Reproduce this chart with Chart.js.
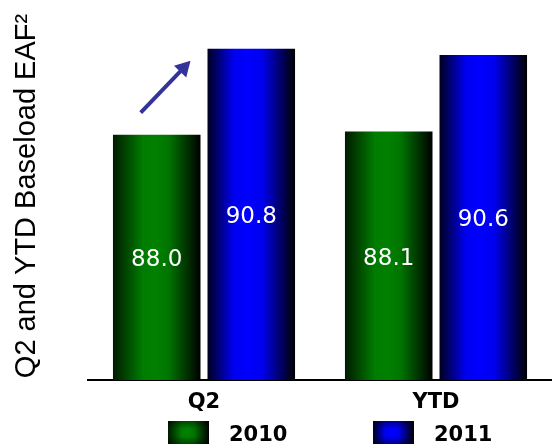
<!DOCTYPE html>
<html>
<head>
<meta charset="utf-8">
<script src="https://cdn.jsdelivr.net/npm/chart.js@4/dist/chart.umd.min.js"></script>
<style>
  html, body { margin: 0; padding: 0; background: #fff; }
  #wrap { width: 552px; height: 446px; position: relative; }
</style>
</head>
<body>
<div id="wrap"><canvas id="eafChart"></canvas></div>
<script>
const categories = ['Q2', 'YTD'];
const seriesNames = ['2010', '2011'];
const values2010 = [88.0, 88.1];
const values2011 = [90.8, 90.6];
const axisTitle = 'Q2 and YTD Baseload EAF\u00B2';

// gradient stops per series: dark edges, bright middle
const gradients = [
  [[0, '#001a00'], [0.34, '#007c00'], [0.5, '#008000'], [0.64, '#007400'], [1, '#000000']],
  [[0, '#000020'], [0.3, '#0000f0'], [0.45, '#0000ff'], [0.62, '#0000f0'], [1, '#000000']]
];
const midColors = ['#008000', '#0000ff'];

function barFill(context) {
  const i = context.datasetIndex;
  const bar = context.element;
  if (!bar || bar.x === undefined || !bar.width) return midColors[i];
  const g = context.chart.ctx.createLinearGradient(bar.x - bar.width / 2, 0, bar.x + bar.width / 2, 0);
  gradients[i].forEach(s => g.addColorStop(s[0], s[1]));
  return g;
}

const valueLabels = {
  id: 'valueLabels',
  afterDatasetsDraw(chart) {
    const ctx = chart.ctx;
    const bottom = chart.chartArea.bottom;
    ctx.save();
    ctx.fillStyle = '#ffffff';
    ctx.font = '23px "DejaVu Sans"';
    ctx.textAlign = 'center';
    ctx.textBaseline = 'middle';
    chart.data.datasets.forEach((ds, di) => {
      chart.getDatasetMeta(di).data.forEach((bar, i) => {
        // the axis does not start at zero, so the visible bar ends at the chart bottom
        const base = Math.min(bar.base, bottom);
        ctx.fillText(ds.data[i].toFixed(1), bar.x, (bar.y + base) / 2 + 3);
      });
    });
    ctx.restore();
  }
};

// arrow from the 2010 Q2 bar up towards the 2011 Q2 bar
const upArrow = {
  id: 'upArrow',
  afterDatasetsDraw(chart) {
    const a = chart.getDatasetMeta(0).data[0];
    const b = chart.getDatasetMeta(1).data[0];
    if (!a || !b) return;
    const x0 = a.x - 16, y0 = a.y - 22;
    const x1 = b.x - b.width / 2 - 17, y1 = b.y + 12;
    const dx = x1 - x0, dy = y1 - y0;
    const len = Math.sqrt(dx * dx + dy * dy);
    const ux = dx / len, uy = dy / len;
    const head = 15, half = 8.5;
    const bx = x1 - ux * head, by = y1 - uy * head;
    const ctx = chart.ctx;
    ctx.save();
    ctx.strokeStyle = '#333399';
    ctx.fillStyle = '#333399';
    ctx.lineWidth = 4;
    ctx.beginPath();
    ctx.moveTo(x0, y0);
    ctx.lineTo(bx + ux * 2, by + uy * 2);
    ctx.stroke();
    ctx.beginPath();
    ctx.moveTo(x1, y1);
    ctx.lineTo(bx - uy * half, by + ux * half);
    ctx.lineTo(bx + uy * half, by - ux * half);
    ctx.closePath();
    ctx.fill();
    ctx.restore();
  }
};

// legend drawn under the axis labels
const boxLegend = {
  id: 'boxLegend',
  afterDraw(chart) {
    const ctx = chart.ctx;
    const itemX = [168, 373];
    const boxY = 421, boxW = 41, boxH = 23;
    ctx.save();
    chart.data.datasets.forEach((ds, i) => {
      const x = itemX[i];
      const g = ctx.createLinearGradient(x, 0, x + boxW, 0);
      gradients[i].forEach(s => g.addColorStop(s[0], s[1]));
      ctx.fillStyle = g;
      ctx.fillRect(x, boxY, boxW, boxH);
      const v = ctx.createLinearGradient(0, boxY, 0, boxY + boxH);
      v.addColorStop(0, 'rgba(0,0,0,0.45)');
      v.addColorStop(0.35, 'rgba(0,0,0,0)');
      v.addColorStop(0.65, 'rgba(0,0,0,0)');
      v.addColorStop(1, 'rgba(0,0,0,0.45)');
      ctx.fillStyle = v;
      ctx.fillRect(x, boxY, boxW, boxH);
      ctx.fillStyle = '#000';
      ctx.font = 'bold 21px "DejaVu Sans"';
      ctx.textAlign = 'left';
      ctx.textBaseline = 'middle';
      ctx.fillText(ds.label, x + boxW + 20, boxY + boxH / 2 + 3);
    });
    ctx.restore();
  }
};

const chart = new Chart(document.getElementById('eafChart'), {
  type: 'bar',
  data: {
    labels: categories,
    datasets: [
      { label: seriesNames[0], data: values2010, backgroundColor: barFill },
      { label: seriesNames[1], data: values2011, backgroundColor: barFill }
    ]
  },
  options: {
    responsive: true,
    maintainAspectRatio: false,
    animation: false,
    layout: { padding: { top: 12, right: 0, bottom: 0, left: 0 } },
    datasets: { bar: { categoryPercentage: 0.815, barPercentage: 0.926 } },
    plugins: {
      legend: { display: false },
      tooltip: { enabled: false }
    },
    scales: {
      x: {
        grid: { display: false },
        border: { display: true, color: '#000', width: 2 },
        ticks: { color: '#000', padding: 2, font: { family: 'DejaVu Sans', size: 21, weight: 'bold' } },
        afterFit(scale) { scale.height = 66; }
      },
      y: {
        min: 80,
        max: 92,
        grid: { display: false },
        border: { display: false },
        ticks: { display: false },
        title: {
          display: true,
          text: axisTitle,
          color: '#000',
          padding: { top: 12, bottom: 0 },
          font: { family: 'Liberation Sans', size: 29, weight: 'normal', lineHeight: 1 }
        },
        afterFit(scale) { scale.width = 88; }
      }
    }
  },
  plugins: [valueLabels, upArrow, boxLegend]
});
// second pass so the bar gradients can use the laid-out bar positions
chart.update('none');
</script>
</body>
</html>
